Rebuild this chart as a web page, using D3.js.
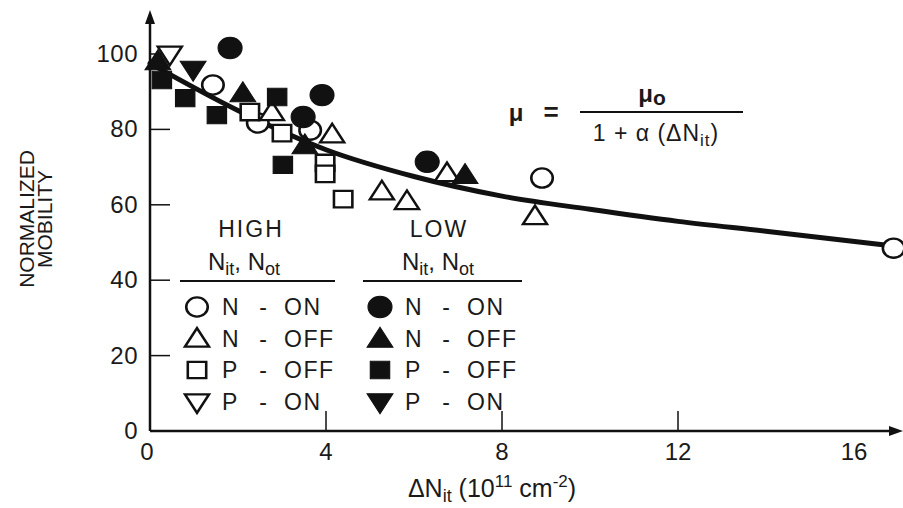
<!DOCTYPE html>
<html>
<head>
<meta charset="utf-8">
<script src="https://cdn.jsdelivr.net/npm/d3@7"></script>
<style>
  body { margin: 0; background: #fff; }
  text { font-family: Arial, "Liberation Sans", Helvetica, sans-serif; fill: #1a1a1a; }
</style>
</head>
<body>
<div id="chart"></div>
<script>
// data: [deltaNit (1e11 cm^-2), normalized mobility]
var highNOn  = [[1.43, 91.8], [2.45, 81.7], [3.64, 79.8], [8.91, 67.1], [16.9, 48.5]];
var highNOff = [[2.77, 84.1], [4.14, 78.2], [5.27, 63.1], [5.84, 60.5], [6.75, 67.9], [8.75, 56.5]];
var highPOff = [[2.27, 84.6], [3.0, 79.0], [3.98, 71.1], [3.98, 68.2], [4.39, 61.5]];
var highPOn  = [[0.45, 100.3]];
var lowNOn   = [[1.82, 101.6], [3.91, 89.1], [3.48, 83.3], [6.30, 71.4]];
var lowNOff  = [[0.18, 97.6], [2.11, 89.1], [3.52, 75.3], [7.16, 67.4]];
var lowPOff  = [[0.27, 93.1], [0.80, 88.3], [1.52, 83.8], [2.89, 88.6], [3.02, 70.6]];
var lowPOn   = [[0.98, 96.3]];

// fitted curve as drawn in the figure
var curveX = [0, 2, 4, 6, 8, 10, 12, 14, 16.8];
var curveY = [97.5, 85, 74.6, 67.5, 62.3, 58.8, 55.6, 53.0, 49.2];

var xTicks = [0, 4, 8, 12, 16];
var yTicks = [0, 20, 40, 60, 80, 100];

var W = 903, H = 508;
var svg = d3.select("#chart").append("svg")
  .attr("width", W)
  .attr("height", H);

var x = d3.scaleLinear().domain([0, 16]).range([150, 854]);
var y = d3.scaleLinear().domain([0, 100]).range([431, 54]);

var ink = "#111";

// axes with arrows
svg.append("line")
  .attr("x1", x(0)).attr("x2", 893)
  .attr("y1", y(0)).attr("y2", y(0))
  .attr("stroke", ink).attr("stroke-width", 2.5);
svg.append("path")
  .attr("d", "M903," + y(0) + " L889," + (y(0) - 5) + " L889," + (y(0) + 5) + " Z")
  .attr("fill", ink);
svg.append("line")
  .attr("x1", x(0)).attr("x2", x(0))
  .attr("y1", y(0)).attr("y2", 22)
  .attr("stroke", ink).attr("stroke-width", 2.5);
svg.append("path")
  .attr("d", "M" + x(0) + ",10 L" + (x(0) - 5) + ",24 L" + (x(0) + 5) + ",24 Z")
  .attr("fill", ink);

// tick marks (inward)
svg.selectAll(".ytick")
  .data(yTicks.filter(function (d) { return d > 0; }))
  .enter().append("line")
  .attr("class", "ytick")
  .attr("x1", x(0)).attr("x2", x(0) + 20)
  .attr("y1", function (d) { return y(d); })
  .attr("y2", function (d) { return y(d); })
  .attr("stroke", ink).attr("stroke-width", 1.5);

svg.selectAll(".xtick")
  .data([4, 8, 12])
  .enter().append("line")
  .attr("class", "xtick")
  .attr("x1", function (d) { return x(d); })
  .attr("x2", function (d) { return x(d); })
  .attr("y1", y(0)).attr("y2", y(0) - 20)
  .attr("stroke", ink).attr("stroke-width", 1.5);

// tick labels
svg.selectAll(".ylab")
  .data(yTicks)
  .enter().append("text")
  .attr("class", "ylab")
  .attr("x", 138)
  .attr("y", function (d) { return y(d) + 8; })
  .attr("text-anchor", "end")
  .style("font-size", "24px")
  .style("letter-spacing", "0.5px")
  .text(function (d) { return d; });

svg.selectAll(".xlab")
  .data(xTicks)
  .enter().append("text")
  .attr("class", "xlab")
  .attr("x", function (d) { return x(d) - (d == 0 ? 3 : 0); })
  .attr("y", 460)
  .attr("text-anchor", "middle")
  .style("font-size", "24px")
  .text(function (d) { return d; });

// axis titles
svg.append("text")
  .attr("transform", "translate(34,219) rotate(-90)")
  .attr("text-anchor", "middle")
  .style("font-size", "21px")
  .text("NORMALIZED");
svg.append("text")
  .attr("transform", "translate(52,219) rotate(-90)")
  .attr("text-anchor", "middle")
  .style("font-size", "21px")
  .text("MOBILITY");

var xt = svg.append("text")
  .attr("x", 492).attr("y", 497)
  .attr("text-anchor", "middle")
  .style("font-size", "25px");
xt.append("tspan").text("\u0394N");
xt.append("tspan").attr("dy", 5).style("font-size", "18px").text("it");
xt.append("tspan").attr("dy", -5).text(" (10");
xt.append("tspan").attr("dy", -10).style("font-size", "17px").text("11");
xt.append("tspan").attr("dy", 10).text(" cm");
xt.append("tspan").attr("dy", -10).style("font-size", "17px").text("-2");
xt.append("tspan").attr("dy", 10).text(")");

// fitted curve
var curvePts = curveX.map(function (d, i) { return [d, curveY[i]]; });
svg.append("path")
  .datum(curvePts)
  .attr("fill", "none")
  .attr("stroke", ink)
  .attr("stroke-width", 5)
  .attr("stroke-linecap", "round")
  .attr("d", d3.line()
    .x(function (d) { return x(d[0]); })
    .y(function (d) { return y(d[1]); })
    .curve(d3.curveMonotoneX));

// marker definitions
var series = [
  { data: highNOn,  type: d3.symbolCircle,   size: 290, filled: false, rot: 0,   label: "N", state: "ON" },
  { data: highNOff, type: d3.symbolTriangle, size: 200, filled: false, rot: 0,   label: "N", state: "OFF" },
  { data: highPOff, type: d3.symbolSquare,   size: 270, filled: false, rot: 0,   label: "P", state: "OFF" },
  { data: highPOn,  type: d3.symbolTriangle, size: 200, filled: false, rot: 180, label: "P", state: "ON" },
  { data: lowNOn,   type: d3.symbolCircle,   size: 360, filled: true,  rot: 0,   label: "N", state: "ON" },
  { data: lowNOff,  type: d3.symbolTriangle, size: 230, filled: true,  rot: 0,   label: "N", state: "OFF" },
  { data: lowPOff,  type: d3.symbolSquare,   size: 300, filled: true,  rot: 0,   label: "P", state: "OFF" },
  { data: lowPOn,   type: d3.symbolTriangle, size: 230, filled: true,  rot: 180, label: "P", state: "ON" }
];

function drawMarker(g, s, px, py) {
  g.append("path")
    .attr("d", d3.symbol().type(s.type).size(s.size)())
    .attr("transform", "translate(" + px + "," + py + ") scale(1.12,1) rotate(" + s.rot + ")")
    .attr("fill", s.filled ? ink : "#fff")
    .attr("stroke", ink)
    .attr("stroke-width", s.filled ? 1 : 2.3);
}

var pts = svg.append("g");
series.forEach(function (s) {
  s.data.forEach(function (d) {
    drawMarker(pts, s, x(d[0]), y(d[1]));
  });
});

// legend
var leg = svg.append("g");
function nitNot(cx) {
  var t = leg.append("text")
    .attr("x", cx).attr("y", 270)
    .attr("text-anchor", "middle")
    .style("font-size", "24px");
  t.append("tspan").text("N");
  t.append("tspan").attr("dy", 5).style("font-size", "18px").text("it");
  t.append("tspan").attr("dy", -5).text(", N");
  t.append("tspan").attr("dy", 5).style("font-size", "18px").text("ot");
}
leg.append("text").attr("x", 251).attr("y", 237).attr("text-anchor", "middle")
  .style("font-size", "23px").style("letter-spacing", "2px").text("HIGH");
leg.append("text").attr("x", 439).attr("y", 237).attr("text-anchor", "middle")
  .style("font-size", "23px").style("letter-spacing", "2px").text("LOW");
nitNot(244);
nitNot(438);
leg.append("line").attr("x1", 180).attr("x2", 335).attr("y1", 281).attr("y2", 281)
  .attr("stroke", ink).attr("stroke-width", 2);
leg.append("line").attr("x1", 363).attr("x2", 522).attr("y1", 281).attr("y2", 281)
  .attr("stroke", ink).attr("stroke-width", 2);

series.forEach(function (s, i) {
  var col = i < 4 ? 0 : 1;
  var row = i % 4;
  var mx = col == 0 ? 197 : 380;
  var cy = 307 + row * 31.5;
  drawMarker(leg, s, mx, cy + (s.type == d3.symbolTriangle ? (s.rot ? -1 : 2) : 0));
  leg.append("text").attr("x", mx + 25).attr("y", cy + 8)
    .style("font-size", "23px").text(s.label);
  leg.append("text").attr("x", mx + 66).attr("y", cy + 8).attr("text-anchor", "middle")
    .style("font-size", "23px").text("-");
  leg.append("text").attr("x", mx + 87).attr("y", cy + 8)
    .style("font-size", "23px").style("letter-spacing", "1.5px").text(s.state);
});

// formula
svg.append("text").attr("x", 516).attr("y", 121).attr("text-anchor", "middle")
  .style("font-size", "24px").style("font-weight", "bold").text("\u03bc");
svg.append("text").attr("x", 551).attr("y", 121).attr("text-anchor", "middle")
  .style("font-size", "26px").style("font-weight", "bold").text("=");
svg.append("line").attr("x1", 580).attr("x2", 743).attr("y1", 112).attr("y2", 112)
  .attr("stroke", ink).attr("stroke-width", 1.8);
var num = svg.append("text").attr("x", 652).attr("y", 102).attr("text-anchor", "middle")
  .style("font-size", "24px").style("font-weight", "bold");
num.append("tspan").text("\u03bc");
num.append("tspan").attr("dy", 3).style("font-size", "21px").text("o");
var den = svg.append("text").attr("x", 656).attr("y", 141).attr("text-anchor", "middle")
  .style("font-size", "23px").style("letter-spacing", "1px");
den.append("tspan").text("1 + \u03b1 (\u0394N");
den.append("tspan").attr("dy", 5).style("font-size", "17px").text("it");
den.append("tspan").attr("dy", -5).text(")");
</script>
</body>
</html>
